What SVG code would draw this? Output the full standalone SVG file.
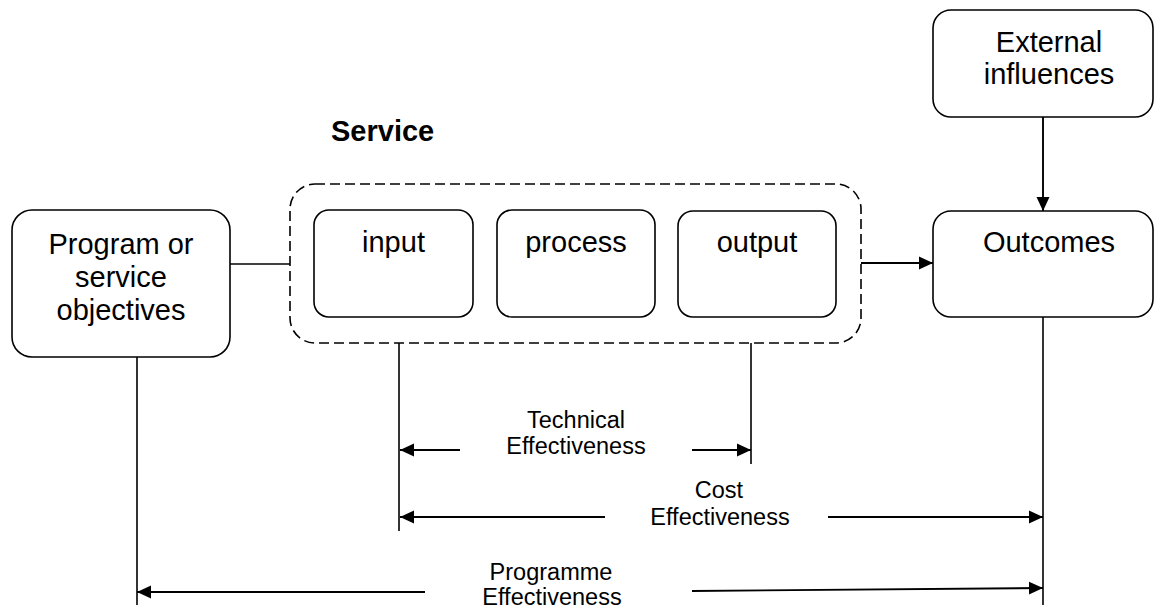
<svg xmlns="http://www.w3.org/2000/svg" width="1155" height="609" viewBox="0 0 1155 609">
<style>
.box{fill:#fff;stroke:#000;stroke-width:1.6}
.big{font-family:"Liberation Sans",Arial,sans-serif;font-size:29px;fill:#000;text-anchor:middle}
.small{font-family:"Liberation Sans",Arial,sans-serif;font-size:23.5px;fill:#000;text-anchor:middle}
.ln{stroke:#000;stroke-width:1.6;fill:none}
.arr{stroke:#000;stroke-width:1.9;fill:none;marker-end:url(#ah)}
</style>
<defs>
<marker id="ah" markerUnits="userSpaceOnUse" markerWidth="16" markerHeight="14" refX="14" refY="7" orient="auto">
<path d="M0,0.5 L14,7 L0,13.5 Z" fill="#000"/>
</marker>
</defs>
<rect width="1155" height="609" fill="#fff"/>
<g id="service">
<rect x="290" y="184" width="571" height="159" rx="25" fill="none" stroke="#000" stroke-width="1.6" stroke-dasharray="10 5"/>
<text x="331" y="141" font-family="'Liberation Sans',Arial,sans-serif" font-size="29" font-weight="bold">Service</text>
</g>
<g id="program">
<rect class="box" x="12" y="210" width="218" height="147" rx="20"/>
<text class="big" x="121" y="254">Program or</text>
<text class="big" x="121" y="287">service</text>
<text class="big" x="121" y="320">objectives</text>
</g>
<g id="input">
<rect class="box" x="314" y="210" width="159" height="107" rx="15"/>
<text class="big" x="393.5" y="252">input</text>
</g>
<g id="process">
<rect class="box" x="497" y="210" width="158" height="107" rx="15"/>
<text class="big" x="576" y="252">process</text>
</g>
<g id="output">
<rect class="box" x="678" y="211" width="158" height="106" rx="15"/>
<text class="big" x="757" y="252">output</text>
</g>
<g id="external">
<rect class="box" x="933" y="10" width="220" height="107" rx="18"/>
<text class="big" x="1049" y="52">External</text>
<text class="big" x="1049" y="84">influences</text>
</g>
<g id="outcomes">
<rect class="box" x="933" y="211" width="220" height="106" rx="18"/>
<text class="big" x="1049" y="252">Outcomes</text>
</g>
<g id="connectors">
<line class="ln" x1="230" y1="264" x2="290" y2="264"/>
<line class="arr" x1="861" y1="263" x2="933" y2="263"/>
<line class="arr" x1="1043" y1="117" x2="1043" y2="211"/>
<line class="ln" x1="137" y1="357" x2="137" y2="605"/>
<line class="ln" x1="399" y1="343" x2="399" y2="531"/>
<line class="ln" x1="751" y1="343" x2="751" y2="464"/>
<line class="ln" x1="1043" y1="317" x2="1043" y2="605"/>
<line class="arr" x1="460" y1="450" x2="400" y2="450"/>
<line class="arr" x1="692" y1="450" x2="751" y2="450"/>
<line class="arr" x1="605" y1="517" x2="400" y2="517"/>
<line class="arr" x1="828" y1="517" x2="1043" y2="517"/>
<line class="arr" x1="425" y1="592" x2="137" y2="592"/>
<line class="arr" x1="692" y1="591" x2="1043" y2="588"/>
</g>
<g id="labels">
<text class="small" x="576" y="428">Technical</text>
<text class="small" x="576" y="454">Effectiveness</text>
<text class="small" x="719" y="498">Cost</text>
<text class="small" x="720" y="525">Effectiveness</text>
<text class="small" x="551" y="580">Programme</text>
<text class="small" x="552" y="605">Effectiveness</text>
</g>
</svg>
